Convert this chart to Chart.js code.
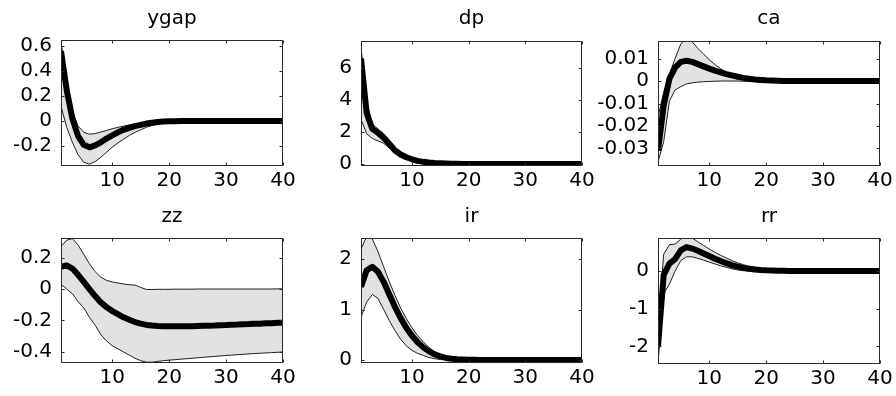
<!DOCTYPE html>
<html><head><meta charset="utf-8">
<script src="https://cdn.jsdelivr.net/npm/chart.js@4.4.0/dist/chart.umd.min.js"></script>
<style>
html,body{margin:0;padding:0;background:#fff;width:896px;height:396px;overflow:hidden;}
.p{position:absolute;width:330px;height:198px;}
</style></head><body>
<div class="p" style="left:0px;top:0px"><canvas id="c0" width="330" height="198"></canvas></div>
<div class="p" style="left:300px;top:0px"><canvas id="c1" width="330" height="198"></canvas></div>
<div class="p" style="left:596px;top:0px"><canvas id="c2" width="330" height="198"></canvas></div>
<div class="p" style="left:0px;top:198px"><canvas id="c3" width="330" height="198"></canvas></div>
<div class="p" style="left:300px;top:198px"><canvas id="c4" width="330" height="198"></canvas></div>
<div class="p" style="left:596px;top:198px"><canvas id="c5" width="330" height="198"></canvas></div>
<script>
// ---- data ----
const periods = [1,2,3,4,5,6,7,8,9,10,11,12,13,14,15,16,17,18,19,20,21,22,23,24,25,26,27,28,29,30,31,32,33,34,35,36,37,38,39,40];
const xTicks = [10,20,30,40];
const xTickLabels = ['10','20','30','40'];

const ygapMedian = [0.56,0.25,0.02,-0.12,-0.19,-0.21,-0.195,-0.17,-0.14,-0.115,-0.09,-0.07,-0.055,-0.04,-0.03,-0.02,-0.013,-0.008,-0.004,-0.002,-0.001,0,0,0,0,0,0,0,0,0,0,0,0,0,0,0,0,0,0,0];
const ygapUpper  = [0.64,0.32,0.08,-0.04,-0.09,-0.105,-0.1,-0.088,-0.075,-0.062,-0.05,-0.04,-0.031,-0.023,-0.016,-0.011,-0.007,-0.004,-0.002,0,0.001,0.001,0,0,0,0,0,0,0,0,0,0,0,0,0,0,0,0,0,0];
const ygapLower  = [0.12,-0.05,-0.17,-0.27,-0.33,-0.345,-0.325,-0.29,-0.25,-0.21,-0.175,-0.145,-0.115,-0.09,-0.07,-0.05,-0.035,-0.024,-0.015,-0.009,-0.005,-0.003,-0.001,0,0,0,0,0,0,0,0,0,0,0,0,0,0,0,0,0];
const ygapTicks = [-0.2,0,0.2,0.4,0.6];
const ygapTickLabels = ['-0.2','0','0.2','0.4','0.6'];

const dpMedian = [6.6,3.2,2.2,1.95,1.65,1.25,0.85,0.6,0.43,0.3,0.2,0.14,0.1,0.07,0.05,0.035,0.025,0.018,0.012,0.008,0.006,0.004,0.003,0.002,0.001,0,0,0,0,0,0,0,0,0,0,0,0,0,0,0];
const dpUpper  = [7.3,3.9,2.5,2.2,1.9,1.5,1.05,0.75,0.55,0.4,0.28,0.2,0.14,0.1,0.07,0.05,0.035,0.025,0.018,0.012,0.008,0.005,0.003,0.002,0.001,0,0,0,0,0,0,0,0,0,0,0,0,0,0,0];
const dpLower  = [2.8,1.9,1.6,1.45,1.3,1.0,0.68,0.47,0.33,0.22,0.15,0.1,0.07,0.045,0.03,0.02,0.012,0.008,0.005,0.003,0.002,0.001,0,0,0,0,0,0,0,0,0,0,0,0,0,0,0,0,0,0];
const dpTicks = [0,2,4,6];
const dpTickLabels = ['0','2','4','6'];

const caMedian = [-0.031,-0.011,0.001,0.006,0.0085,0.009,0.0085,0.0075,0.0065,0.0055,0.0046,0.0038,0.0031,0.0025,0.0019,0.0014,0.001,0.0007,0.0005,0.0003,0.0002,0.0001,0,0,0,0,0,0,0,0,0,0,0,0,0,0,0,0,0,0];
const caUpper  = [-0.016,-0.005,0.003,0.010,0.0165,0.019,0.0175,0.0145,0.012,0.0095,0.0073,0.0055,0.0039,0.0026,0.0016,0.0009,0.0005,0.0003,0.0002,0.0001,0,0,0,0,0,0,0,0,0,0,0,0,0,0,0,0,0,0,0,0];
const caLower  = [-0.036,-0.027,-0.009,-0.004,-0.0025,-0.0013,-0.0008,-0.0005,-0.0003,-0.0002,-0.0001,0,0,0,0,-0.0001,-0.0001,-0.0001,0,0,0,0,0,0,0,0,0,0,0,0,0,0,0,0,0,0,0,0,0,0];
const caTicks = [-0.03,-0.02,-0.01,0,0.01];
const caTickLabels = ['-0.03','-0.02','-0.01','0','0.01'];

const zzMedian = [0.14,0.15,0.13,0.09,0.045,0.0,-0.045,-0.085,-0.115,-0.14,-0.16,-0.18,-0.195,-0.21,-0.22,-0.228,-0.232,-0.235,-0.236,-0.237,-0.237,-0.237,-0.236,-0.236,-0.235,-0.234,-0.233,-0.232,-0.23,-0.229,-0.227,-0.226,-0.224,-0.223,-0.221,-0.22,-0.218,-0.217,-0.215,-0.214];
const zzUpper  = [0.27,0.31,0.32,0.28,0.22,0.16,0.11,0.075,0.055,0.045,0.038,0.032,0.027,0.025,0.01,-0.003,-0.003,-0.002,-0.002,-0.002,-0.001,-0.001,-0.001,-0.001,0,0,0,0,0,0,0,0,0,0,0,0,0,0,0.001,0.001];
const zzLower  = [0.03,0.0,-0.03,-0.08,-0.12,-0.18,-0.23,-0.29,-0.33,-0.36,-0.38,-0.40,-0.42,-0.44,-0.455,-0.465,-0.465,-0.46,-0.455,-0.452,-0.449,-0.446,-0.443,-0.44,-0.437,-0.434,-0.431,-0.428,-0.425,-0.422,-0.42,-0.417,-0.415,-0.412,-0.41,-0.408,-0.406,-0.404,-0.402,-0.40];
const zzTicks = [-0.4,-0.2,0,0.2];
const zzTickLabels = ['-0.4','-0.2','0','0.2'];

const irMedian = [1.45,1.78,1.85,1.75,1.55,1.3,1.05,0.83,0.64,0.48,0.35,0.25,0.17,0.11,0.07,0.04,0.025,0.015,0.01,0.005,0.003,0.002,0.001,0,0,0,0,0,0,0,0,0,0,0,0,0,0,0,0,0];
const irUpper  = [2.2,2.45,2.4,2.15,1.85,1.55,1.28,1.03,0.82,0.64,0.48,0.36,0.25,0.16,0.1,0.06,0.035,0.02,0.01,0.005,0.003,0.002,0.001,0,0,0,0,0,0,0,0,0,0,0,0,0,0,0,0,0];
const irLower  = [0.85,1.15,1.3,1.22,1.0,0.78,0.58,0.41,0.28,0.19,0.13,0.09,0.05,0.025,0.01,0.005,0.002,0,0,0,0,0,0,0,0,0,0,0,0,0,0,0,0,0,0,0,0,0,0,0];
const irTicks = [0,1,2];
const irTickLabels = ['0','1','2'];

const rrMedian = [-2.0,-0.1,0.2,0.32,0.55,0.64,0.6,0.54,0.47,0.4,0.33,0.27,0.21,0.16,0.12,0.085,0.06,0.045,0.03,0.02,0.014,0.01,0.007,0.005,0.003,0.002,0.001,0,0,0,0,0,0,0,0,0,0,0,0,0];
const rrUpper  = [-1.5,0.45,0.7,0.72,0.85,0.95,0.88,0.78,0.68,0.59,0.5,0.42,0.35,0.28,0.22,0.17,0.13,0.1,0.07,0.05,0.035,0.025,0.015,0.01,0.005,0.003,0.001,0,0,0,0,0,0,0,0,0,0,0,0,0];
const rrLower  = [-2.45,-0.6,-0.35,0.0,0.28,0.38,0.38,0.34,0.29,0.24,0.19,0.14,0.1,0.06,0.03,0.01,0,-0.01,-0.01,-0.01,-0.01,-0.008,-0.006,-0.005,-0.004,-0.003,-0.002,-0.001,0,0,0,0,0,0,0,0,0,0,0,0];
const rrTicks = [-2,-1,0];
const rrTickLabels = ['-2','-1','0'];

// ---- layout (local pixel positions of each axes box) ----
const panels = [
  {id:'c0', title:'ygap', med:ygapMedian, up:ygapUpper, lo:ygapLower, ymin:-0.36, ymax:0.65, yt:ygapTicks, yl:ygapTickLabels, L:61, R:283, T:40, B:166},
  {id:'c1', title:'dp',   med:dpMedian,   up:dpUpper,   lo:dpLower,   ymin:-0.12, ymax:7.7,  yt:dpTicks,   yl:dpTickLabels,   L:61, R:282, T:41, B:166},
  {id:'c2', title:'ca',   med:caMedian,   up:caUpper,   lo:caLower,   ymin:-0.0378, ymax:0.0178, yt:caTicks, yl:caTickLabels, L:62, R:284, T:41, B:166},
  {id:'c3', title:'zz',   med:zzMedian,   up:zzUpper,   lo:zzLower,   ymin:-0.47, ymax:0.324, yt:zzTicks,  yl:zzTickLabels,   L:61, R:283, T:40, B:165},
  {id:'c4', title:'ir',   med:irMedian,   up:irUpper,   lo:irLower,   ymin:-0.06, ymax:2.42, yt:irTicks,   yl:irTickLabels,   L:61, R:282, T:40, B:165},
  {id:'c5', title:'rr',   med:rrMedian,   up:rrUpper,   lo:rrLower,   ymin:-2.47, ymax:0.88, yt:rrTicks,   yl:rrTickLabels,   L:62, R:284, T:40, B:166}
];

const FONT = {family:'DejaVu Sans', size:20, weight:'normal', lineHeight:1.2};
const W = 330, H = 198;

const frame = {
  id:'frame',
  afterDatasetsDraw(chart){
    const {ctx, chartArea:a, scales:{x, y}} = chart;
    ctx.save();
    ctx.strokeStyle = '#2a2a2a';
    ctx.lineWidth = 1;
    const l = Math.round(a.left)+0.5, r = Math.round(a.right)-0.5, t = Math.round(a.top)+0.5, b = Math.round(a.bottom)-0.5;
    ctx.strokeRect(l, t, r-l, b-t);
    const tl = 3;
    ctx.beginPath();
    x.ticks.forEach(tk => {
      const px = Math.round(x.getPixelForValue(tk.value))+0.5;
      ctx.moveTo(px, b); ctx.lineTo(px, b-tl);
      ctx.moveTo(px, t); ctx.lineTo(px, t+tl);
    });
    y.ticks.forEach(tk => {
      const py = Math.round(y.getPixelForValue(tk.value))+0.5;
      ctx.moveTo(l, py); ctx.lineTo(l+tl, py);
      ctx.moveTo(r, py); ctx.lineTo(r-tl, py);
    });
    ctx.stroke();
    ctx.restore();
  }
};

panels.forEach(p => {
  const pts = arr => periods.map((v,i) => ({x:v, y:arr[i]}));
  new Chart(document.getElementById(p.id), {
    type:'line',
    data:{datasets:[
      {data:pts(p.med), borderColor:'#000', borderWidth:6, pointRadius:0, fill:false, order:0, clip:0, borderJoinStyle:'round', borderCapStyle:'butt'},
      {data:pts(p.up),  borderColor:'#1e1e1e', borderWidth:1, pointRadius:0, fill:'+1', backgroundColor:'#e2e2e2', order:1, clip:0},
      {data:pts(p.lo),  borderColor:'#1e1e1e', borderWidth:1, pointRadius:0, fill:false, order:2, clip:0}
    ]},
    options:{
      responsive:false, animation:false, events:[],
      layout:{padding:{left:0, right:W-p.R, top:0, bottom:0}},
      plugins:{
        legend:{display:false}, tooltip:{enabled:false},
        filler:{drawTime:'beforeDatasetsDraw'},
        title:{display:true, text:p.title, fullSize:false, color:'#000', font:FONT, padding:{top:7, bottom:p.T-31}}
      },
      scales:{
        x:{type:'linear', min:1, max:40,
           grid:{display:false, drawTicks:false}, border:{display:false},
           afterBuildTicks:s => { s.ticks = xTicks.map(v => ({value:v})); },
           afterFit:s => { s.height = H - p.B; },
           ticks:{color:'#000', font:FONT, padding:3, maxRotation:0, autoSkip:false,
                  callback:(v,i) => xTickLabels[i]}},
        y:{type:'linear', min:p.ymin, max:p.ymax,
           grid:{display:false, drawTicks:false}, border:{display:false},
           afterBuildTicks:s => { s.ticks = p.yt.map(v => ({value:v})); },
           afterFit:s => { s.width = p.L; },
           ticks:{color:'#000', font:FONT, padding:9, autoSkip:false,
                  callback:(v,i) => p.yl[i]}}
      }
    },
    plugins:[frame]
  });
});
</script>
</body></html>
